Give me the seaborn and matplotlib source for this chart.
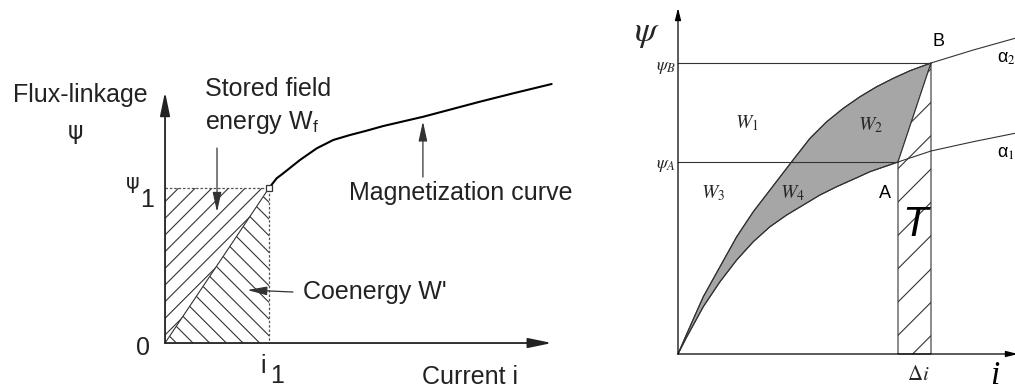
import numpy as np
import matplotlib.pyplot as plt
import seaborn as sns
from matplotlib.patches import Polygon

sns.set_theme(style="white")
plt.rcParams['font.family'] = ['Liberation Sans', 'DejaVu Sans']
plt.rcParams['mathtext.fontset'] = 'stix'
plt.rcParams['hatch.linewidth'] = 0.8

# ---- left diagram: magnetization curve (i1 = 1, psi1 = 1) ----
mag_i = [0.0, 1.0, 1.074, 1.137, 1.298, 1.459, 1.618, 1.779, 1.939, 2.099,
         2.484, 3.029, 3.349, 3.718]
mag_psi = [0.0, 1.0, 1.063, 1.095, 1.181, 1.256, 1.310, 1.342, 1.370, 1.400,
           1.460, 1.557, 1.611, 1.671]
i1, psi1 = 1.0, 1.0
left_axis_end = (3.72, 1.62)

# ---- right diagram: two magnetization curves alpha1 / alpha2 ----
a1_i = [0.0, 0.087, 0.253, 0.42, 0.587, 0.753, 0.92, 1.087, 1.253, 1.42,
        1.587, 1.753, 1.92, 2.20, 2.53, 2.953, 3.37]
a1_psi = [0.0, 0.17, 0.473, 0.723, 0.94, 1.123, 1.273, 1.39, 1.49, 1.59,
          1.673, 1.747, 1.823, 1.92, 2.03, 2.123, 2.207]
a2_i = [0.0, 0.087, 0.253, 0.42, 0.587, 0.753, 0.92, 1.137, 1.32, 1.487,
        1.653, 1.82, 1.987, 2.153, 2.32, 2.53, 2.953, 3.37]
a2_psi = [0.0, 0.20, 0.573, 0.873, 1.173, 1.423, 1.64, 1.923, 2.157, 2.323,
          2.457, 2.573, 2.673, 2.757, 2.833, 2.91, 3.04, 3.157]
iA, psiA = 2.20, 1.92
iB, psiB = 2.53, 2.91
right_axis_end = (3.40, 3.46)

fig = plt.figure(figsize=(10.15, 3.92), dpi=100)

# left axes: pixel 0..600 wide, origin at (165, 343)
axL = fig.add_axes([0, 0, 600 / 1015, 1])
axL.set_xlim(-1.587, 4.183)
axL.set_ylim(-0.316, 2.213)
axL.axis('off')

# hatched energy / coenergy areas
axL.add_patch(Polygon([(0, 0), (0, psi1), (i1, psi1)], closed=True, fill=False,
                      hatch='//', edgecolor='#333333', lw=0))
axL.add_patch(Polygon([(0, 0), (i1, 0), (i1, psi1)], closed=True, fill=False,
                      hatch='\\\\', edgecolor='#333333', lw=0))
axL.plot([0, i1, i1], [psi1, psi1, 0], color='#555555', lw=0.9, ls=(0, (2, 1.5)))
sns.lineplot(x=mag_i[:2], y=mag_psi[:2], ax=axL, color='#333333', lw=0.8,
             sort=False, estimator=None)
sns.lineplot(x=mag_i[1:], y=mag_psi[1:], ax=axL, color='black', lw=1.5,
             sort=False, estimator=None)
axL.plot([i1], [psi1], marker='s', ms=5, mfc='white', mec='#333333', mew=0.9)

# axes arrows
big_head = dict(arrowstyle='-|>,head_length=1.2,head_width=0.25', color='#222222',
                lw=1.3, shrinkA=0, shrinkB=0)
axL.annotate('', xy=(left_axis_end[0], 0), xytext=(0, 0), arrowprops=big_head)
axL.annotate('', xy=(0, left_axis_end[1]), xytext=(0, 0), arrowprops=big_head)

lbl = dict(fontsize=18, color='#222222')
axL.text(-0.17, 1.60, 'Flux-linkage', ha='right', va='center', **lbl)
axL.text(-0.865, 1.36, 'ψ', ha='center', va='center', fontsize=17,
         family='DejaVu Sans', color='#222222')
axL.text(-0.31, 1.03, 'ψ', ha='center', va='center', fontsize=15,
         family='DejaVu Sans', color='#222222')
axL.text(-0.17, 0.92, '1', ha='center', va='center', **lbl)
axL.text(-0.21, -0.03, '0', ha='center', va='center', **lbl)
axL.text(0.94, -0.15, 'i', ha='center', va='center', **lbl)
axL.text(1.08, -0.21, '1', ha='center', va='center', **lbl)
axL.text(2.93, -0.22, 'Current i', ha='center', va='center', **lbl)
axL.text(0.385, 1.64, 'Stored field', ha='left', va='center', **lbl)
axL.text(0.385, 1.42, r'energy W$_\mathregular{f}$', ha='left', va='center', **lbl)
axL.text(2.84, 0.968, 'Magnetization curve', ha='center', va='center', **lbl)
axL.text(1.33, 0.329, "Coenergy W'", ha='left', va='center', **lbl)

small_head = dict(arrowstyle='-|>,head_length=1.0,head_width=0.22', color='#333333',
                  lw=0.9, shrinkA=0, shrinkB=0)
axL.annotate('', xy=(0.5, 0.845), xytext=(0.5, 1.258), arrowprops=small_head)
axL.annotate('', xy=(0.79, 0.342), xytext=(1.23, 0.329), arrowprops=small_head)
axL.annotate('', xy=(2.48, 1.43), xytext=(2.48, 1.071), arrowprops=small_head)

# right axes: pixel 600..1015 wide, origin at (678, 354), 100 px per unit
axR = fig.add_axes([600 / 1015, 0, 415 / 1015, 1])
axR.set_xlim(-0.78, 3.37)
axR.set_ylim(-0.38, 3.54)
axR.axis('off')

# shaded area between the curves (W2 + W4)
n_up = a2_i.index(iB) + 1
n_lo = a1_i.index(iA) + 1
shade = list(zip(a2_i[:n_up], a2_psi[:n_up])) + list(zip(a1_i[:n_lo], a1_psi[:n_lo]))[::-1]
axR.add_patch(Polygon(shade, closed=True, facecolor='#a6a6a6', edgecolor='#333333', lw=0.8))
# hatched strip T
axR.add_patch(Polygon([(iA, 0), (iA, psiA), (iB, psiB), (iB, 0)], closed=True,
                      facecolor='white', hatch='/', edgecolor='#333333', lw=0.8))

sns.lineplot(x=a1_i, y=a1_psi, ax=axR, color='#333333', lw=0.8, sort=False, estimator=None)
sns.lineplot(x=a2_i, y=a2_psi, ax=axR, color='#333333', lw=0.8, sort=False, estimator=None)
axR.plot([0, iB], [psiB, psiB], color='#333333', lw=0.8)
axR.plot([0, iA], [psiA, psiA], color='#333333', lw=0.8)

thin_head = dict(arrowstyle='-|>,head_length=0.6,head_width=0.15', color='black',
                 lw=0.9, shrinkA=0, shrinkB=0)
axR.annotate('', xy=(right_axis_end[0], 0), xytext=(0, 0), arrowprops=thin_head,
             annotation_clip=False)
axR.annotate('', xy=(0, right_axis_end[1]), xytext=(0, 0), arrowprops=thin_head)

axR.text(-0.31, 3.22, r'$\psi$', ha='center', va='center', fontsize=26)
axR.text(-0.02, 2.86, r'$\psi_B$', ha='right', va='center', fontsize=13)
axR.text(-0.02, 1.88, r'$\psi_A$', ha='right', va='center', fontsize=13)
axR.text(0.69, 2.31, r'$W_1$', ha='center', va='center', fontsize=14)
axR.text(1.92, 2.29, r'$W_2$', ha='center', va='center', fontsize=14)
axR.text(0.35, 1.61, r'$W_3$', ha='center', va='center', fontsize=14)
axR.text(1.14, 1.61, r'$W_4$', ha='center', va='center', fontsize=14)
axR.text(2.07, 1.61, 'A', ha='center', va='center', fontsize=13, color='black')
axR.text(2.60, 3.12, 'B', ha='center', va='center', fontsize=13, color='black')
axR.text(3.19, 2.96, 'α$_2$', ha='left', va='center', fontsize=13, color='black')
axR.text(3.19, 2.01, 'α$_1$', ha='left', va='center', fontsize=13, color='black')
axR.text(2.37, 1.29, 'T', ha='center', va='center', fontsize=30, style='italic',
         color='black')
axR.text(2.40, -0.21, r'$\Delta i$', ha='center', va='center', fontsize=15)
axR.text(3.17, -0.375, 'i', ha='center', va='bottom', fontsize=24,
         family='Liberation Serif', style='italic', color='black')

fig.savefig('out.png', dpi=100)
